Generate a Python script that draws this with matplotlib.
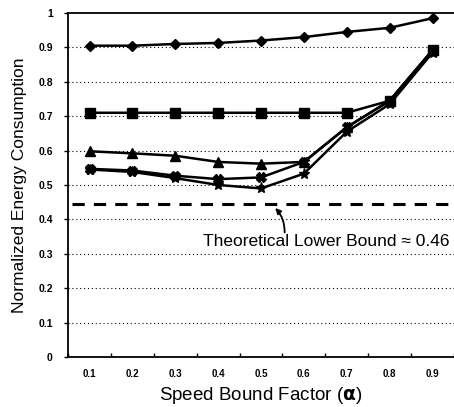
import matplotlib
matplotlib.use("Agg")
import matplotlib.pyplot as plt

categories = ["0.1", "0.2", "0.3", "0.4", "0.5", "0.6", "0.7", "0.8", "0.9"]
series_diamond = [0.905, 0.905, 0.91, 0.913, 0.92, 0.93, 0.945, 0.957, 0.985]
series_square = [0.71, 0.71, 0.71, 0.71, 0.71, 0.71, 0.71, 0.745, 0.892]
series_triangle = [0.598, 0.592, 0.585, 0.567, 0.562, 0.567, 0.668, 0.745, 0.892]
series_cross = [0.547, 0.542, 0.527, 0.517, 0.522, 0.567, 0.668, 0.745, 0.892]
series_star = [0.545, 0.538, 0.52, 0.5, 0.49, 0.533, 0.655, 0.735, 0.885]
lower_bound = 0.445
yticks = [0, 0.1, 0.2, 0.3, 0.4, 0.5, 0.6, 0.7, 0.8, 0.9, 1]
ytick_labels = ["0", "0.1", "0.2", "0.3", "0.4", "0.5", "0.6", "0.7", "0.8", "0.9", "1"]

plt.rcParams['font.family'] = ['Liberation Sans', 'DejaVu Sans']

fig = plt.figure(figsize=(4.54, 4.07), dpi=100)
ax = fig.add_axes([0.150, 0.123, 0.85, 0.845])

x = list(range(len(categories)))
for yv in yticks[1:-1]:
    ax.axhline(yv, color='black', lw=0.8, ls=(0, (1, 2.5)), zorder=1)

ax.axhline(lower_bound, xmin=0.01, color='black', lw=2.2, ls=(0, (4, 3)), zorder=2)

kw = dict(color='black', lw=1.8, zorder=3)
ax.plot(x, series_diamond, marker='D', ms=5.5, **kw)
ax.plot(x, series_square, marker='s', ms=6.5, **kw)
ax.plot(x, series_triangle, marker='^', ms=7, **kw)
ax.plot(x, series_cross, marker='X', ms=7, **kw)
ax.plot(x, series_star, marker='*', ms=8, **kw)

ax.text(8.39, 0.335, "Theoretical Lower Bound \u2248 0.46", ha='right', va='center',
        fontsize=12.5, zorder=4)
ax.annotate("", xy=(4.33, lower_bound - 0.012), xytext=(4.55, 0.362),
            arrowprops=dict(arrowstyle='-|>', color='black', lw=1.3,
                            shrinkA=0, shrinkB=0, mutation_scale=8,
                            connectionstyle='arc3,rad=0.2'),
            zorder=4)

ax.set_xlim(-0.5, 8.39)
ax.set_ylim(0, 1)
ax.set_xticks(x)
ax.set_xticklabels(categories, fontsize=7, fontweight='bold')
ax.set_xticks([i + 0.5 for i in range(-1, 9)], minor=True)
ax.tick_params(axis='x', which='major', length=0, pad=9)
ax.tick_params(axis='x', which='minor', length=3, direction='in', width=1)
ax.set_yticks(yticks)
ax.set_yticklabels(ytick_labels, fontsize=7.5, fontweight='bold')
ax.tick_params(axis='y', length=3, width=1, direction='out', pad=8)

ax.spines['right'].set_visible(False)
for s in ['left', 'bottom', 'top']:
    ax.spines[s].set_linewidth(1.3)

ax.set_ylabel("Normalized Energy Consumption", fontsize=12.5, labelpad=8)
ax.set_xlabel("Speed Bound Factor ($\\mathbf{\\alpha}$)", fontsize=13.5, labelpad=4)

fig.savefig("out.png", dpi=100)
